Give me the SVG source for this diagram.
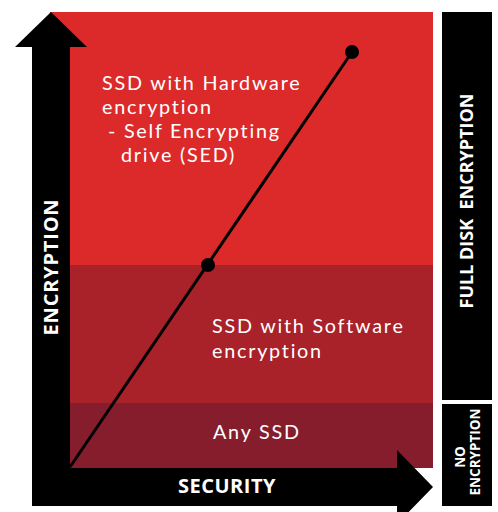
<svg xmlns="http://www.w3.org/2000/svg" width="498" height="512" viewBox="0 0 498 512">
<style>
.lbl{font-family:Lato,"Open Sans","Liberation Sans",sans-serif;font-size:19.8px;letter-spacing:1.75px;fill:#ffffff}
.bold{font-family:"Open Sans","Noto Sans","Liberation Sans",sans-serif;font-weight:bold;fill:#ffffff}
.dot{fill:#000000}
</style>
<rect width="498" height="512" fill="#ffffff"/>
<g id="band-hardware">
<rect x="50" y="12" width="383" height="253" fill="#DC2A2B"/>
<text class="lbl" x="102" y="90">SSD with Hardware<tspan x="102" y="114">encryption</tspan><tspan x="108" y="138">- Self Encrypting</tspan><tspan x="121" y="162">drive (SED)</tspan></text>
</g>
<g id="band-software">
<rect x="50" y="265" width="383" height="138" fill="#A92129"/>
<text class="lbl" x="212" y="333">SSD with Software<tspan x="212" y="358">encryption</tspan></text>
</g>
<g id="band-any">
<rect x="50" y="403" width="383" height="65" fill="#861D2D"/>
<text class="lbl" x="213" y="439">Any SSD</text>
</g>
<g id="axes">
<polygon points="51,12 87,47 70,47 70,468 397,468 397,450 433,487 397,524 397,506 32,506 32,47 15,47" fill="#000000"/>
<text class="bold" font-size="20" letter-spacing="0.8" transform="translate(58,267) rotate(-90)" text-anchor="middle">ENCRYPTION</text>
<text class="bold" font-size="20" letter-spacing="0.5" x="227" y="493" text-anchor="middle">SECURITY</text>
</g>
<g id="full-disk">
<rect x="442" y="12" width="50" height="388" fill="#000000"/>
<text class="bold" font-size="18" xml:space="preserve" transform="translate(473,201) rotate(-90)" text-anchor="middle">FULL DISK  ENCRYPTION</text>
</g>
<g id="no-encryption">
<rect x="442" y="404" width="50" height="102" fill="#000000"/>
<text class="bold" font-size="13.5" transform="translate(465,457) rotate(-90)" text-anchor="middle">NO</text>
<text class="bold" font-size="13.5" transform="translate(480,452) rotate(-90)" text-anchor="middle">ENCRYPTION</text>
</g>
<g id="connectors">
<line x1="70" y1="467" x2="352" y2="52" stroke="#000000" stroke-width="3"/>
<circle class="dot" cx="352" cy="52" r="7"/>
<circle class="dot" cx="208" cy="265" r="7"/>
</g>
</svg>
